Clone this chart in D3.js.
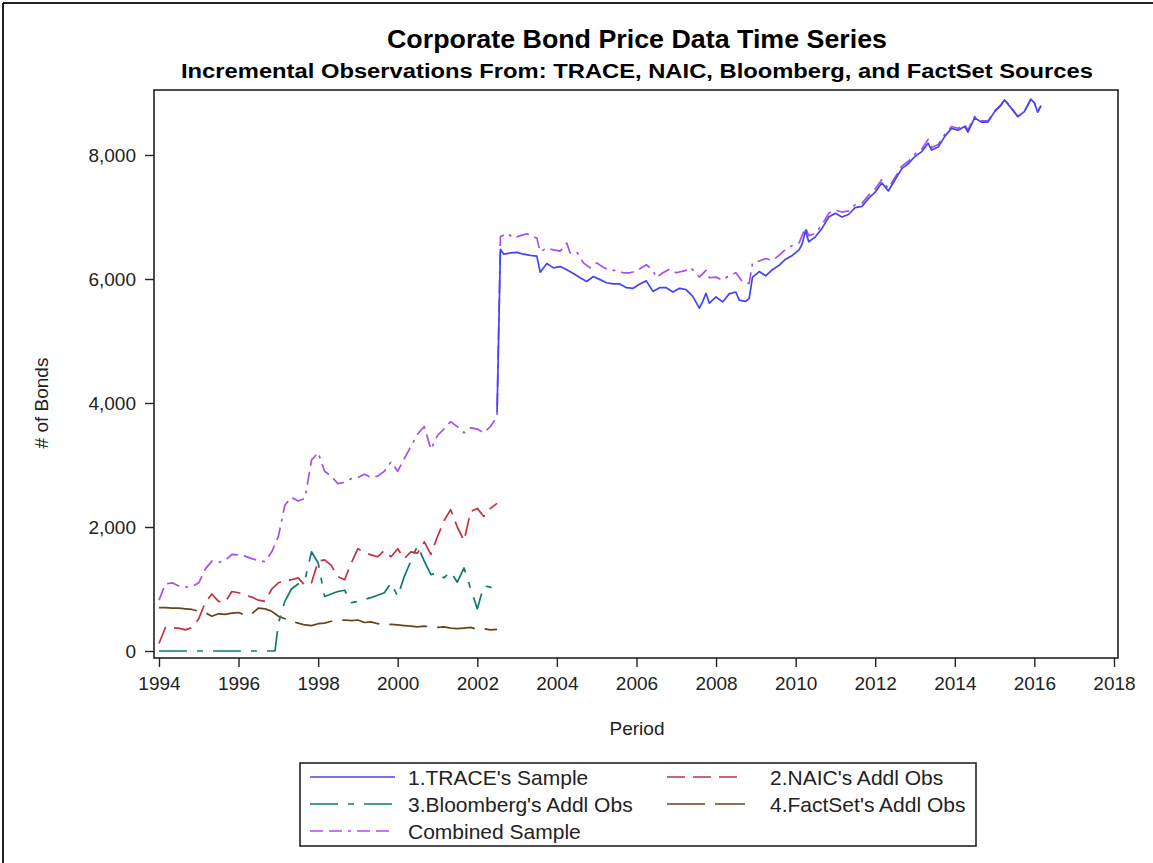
<!DOCTYPE html>
<html><head><meta charset="utf-8">
<script src="https://cdn.jsdelivr.net/npm/d3@7"></script>
<style>
html,body{margin:0;padding:0;background:#fff;}
svg{display:block;font-family:"Liberation Sans",Arial,Helvetica,sans-serif;}
</style></head>
<body>
<svg id="chart" width="1153" height="863"></svg>
<script>
const titleText = "Corporate Bond Price Data Time Series";
const subtitleText = "Incremental Observations From: TRACE, NAIC, Bloomberg, and FactSet Sources";
const xTickYears = [1994,1996,1998,2000,2002,2004,2006,2008,2010,2012,2014,2016,2018];
const yTicks = [0,2000,4000,6000,8000];
const seriesNames = ["1.TRACE's Sample","2.NAIC's Addl Obs","3.Bloomberg's Addl Obs","4.FactSet's Addl Obs","Combined Sample"];

const traceSample = [
["2002-07",3850],["2002-08",6480],["2002-09",6400],["2002-11",6420],["2003-01",6430],["2003-03",6400],["2003-05",6380],["2003-07",6370],
["2003-08",6110],["2003-10",6250],["2003-12",6180],["2004-02",6200],["2004-04",6150],["2004-06",6090],["2004-08",6020],["2004-10",5960],
["2004-12",6040],["2005-02",5990],["2005-04",5940],["2005-06",5920],["2005-08",5920],["2005-10",5860],["2005-12",5850],["2006-02",5920],
["2006-04",5970],["2006-06",5800],["2006-08",5860],["2006-10",5860],["2006-12",5790],["2007-02",5850],["2007-04",5830],["2007-06",5720],
["2007-08",5530],["2007-09",5640],["2007-10",5770],["2007-11",5610],["2008-01",5710],["2008-03",5630],["2008-05",5760],["2008-07",5790],
["2008-08",5660],["2008-10",5640],["2008-11",5690],["2008-12",6030],["2009-02",6120],["2009-04",6050],["2009-06",6150],["2009-08",6220],
["2009-10",6320],["2009-12",6380],["2010-02",6470],["2010-03",6560],["2010-04",6780],["2010-05",6600],["2010-07",6680],["2010-09",6820],
["2010-11",7000],["2011-01",7060],["2011-03",7000],["2011-05",7040],["2011-07",7150],["2011-09",7170],["2011-11",7300],["2012-01",7400],
["2012-03",7550],["2012-05",7420],["2012-07",7600],["2012-09",7780],["2012-11",7860],["2013-01",7980],["2013-03",8050],["2013-05",8190],
["2013-06",8080],["2013-08",8130],["2013-10",8300],["2013-12",8430],["2014-02",8400],["2014-04",8460],["2014-05",8370],["2014-07",8600],
["2014-09",8530],["2014-11",8530],["2015-01",8700],["2015-03",8800],["2015-04",8890],["2015-06",8760],["2015-08",8620],["2015-10",8700],
["2015-12",8900],["2016-01",8840],["2016-02",8690],["2016-03",8790]
];

const naicAddl = [
["1994-01",120],["1994-03",380],["1994-05",370],["1994-07",370],["1994-09",340],["1994-11",380],["1995-01",520],["1995-03",780],
["1995-05",920],["1995-07",800],["1995-09",790],["1995-11",960],["1996-01",940],["1996-03",900],["1996-05",870],["1996-07",820],
["1996-09",800],["1996-11",1000],["1997-01",1100],["1997-03",1130],["1997-05",1150],["1997-07",1180],["1997-09",1060],["1997-11",1100],
["1998-01",1450],["1998-03",1470],["1998-05",1380],["1998-07",1200],["1998-09",1150],["1998-11",1420],["1999-01",1650],["1999-03",1590],
["1999-05",1550],["1999-07",1520],["1999-09",1620],["1999-11",1520],["2000-01",1650],["2000-03",1490],["2000-05",1600],["2000-07",1580],
["2000-09",1760],["2000-11",1560],["2001-01",1850],["2001-03",2100],["2001-05",2280],["2001-07",2000],["2001-09",1780],["2001-11",2250],
["2002-01",2300],["2002-03",2170],["2002-05",2300],["2002-07",2380]
];

const bloombergAddl = [
["1994-01",0],["1994-03",0],["1994-05",0],["1994-07",0],["1994-09",0],["1994-11",0],["1995-01",0],["1995-03",0],
["1995-05",0],["1995-07",0],["1995-09",0],["1995-11",0],["1996-01",0],["1996-03",0],["1996-05",0],["1996-07",0],
["1996-09",0],["1996-11",0],["1996-12",0],["1997-01",450],["1997-03",800],["1997-05",1000],["1997-07",1080],["1997-09",1140],
["1997-11",1600],["1998-01",1420],["1998-03",880],["1998-05",920],["1998-07",960],["1998-09",980],["1998-11",780],["1999-01",800],
["1999-03",830],["1999-05",860],["1999-07",900],["1999-09",940],["1999-11",1100],["2000-01",880],["2000-03",1200],["2000-05",1450],
["2000-07",1700],["2000-09",1450],["2000-11",1230],["2001-01",1260],["2001-03",1180],["2001-05",1280],["2001-07",1110],["2001-09",1340],
["2001-11",1000],["2002-01",680],["2002-03",1050],["2002-05",1030],["2002-07",940]
];

const factsetAddl = [
["1994-01",700],["1994-03",700],["1994-05",690],["1994-07",690],["1994-09",680],["1994-11",670],["1995-01",640],["1995-03",620],
["1995-05",560],["1995-07",600],["1995-09",590],["1995-11",610],["1996-01",620],["1996-03",580],["1996-05",600],["1996-07",690],
["1996-09",680],["1996-11",640],["1997-01",560],["1997-03",520],["1997-05",480],["1997-07",450],["1997-09",420],["1997-11",410],
["1998-01",440],["1998-03",450],["1998-05",480],["1998-07",490],["1998-09",500],["1998-11",490],["1999-01",500],["1999-03",460],
["1999-05",470],["1999-07",440],["1999-09",430],["1999-11",430],["2000-01",420],["2000-03",410],["2000-05",400],["2000-07",390],
["2000-09",400],["2000-11",390],["2001-01",380],["2001-03",390],["2001-05",370],["2001-07",360],["2001-09",370],["2001-11",380],
["2002-01",350],["2002-03",360],["2002-05",340],["2002-07",350]
];

const combinedSample = [
["1994-01",820],["1994-03",1080],["1994-05",1100],["1994-07",1050],["1994-09",1030],["1994-11",1040],["1995-01",1100],["1995-03",1320],
["1995-05",1450],["1995-07",1430],["1995-09",1460],["1995-11",1560],["1996-01",1550],["1996-03",1530],["1996-05",1490],["1996-07",1460],
["1996-09",1440],["1996-11",1600],["1997-01",1850],["1997-03",2350],["1997-05",2480],["1997-07",2420],["1997-09",2460],["1997-11",3080],
["1998-01",3200],["1998-03",2900],["1998-05",2820],["1998-07",2700],["1998-09",2720],["1998-11",2780],["1999-01",2800],["1999-03",2850],
["1999-05",2800],["1999-07",2820],["1999-09",2900],["1999-11",3050],["2000-01",2900],["2000-03",3100],["2000-05",3300],["2000-07",3500],
["2000-09",3620],["2000-11",3250],["2001-01",3480],["2001-03",3580],["2001-05",3700],["2001-07",3620],["2001-09",3520],["2001-11",3600],
["2002-01",3580],["2002-03",3520],["2002-05",3620],["2002-07",3780],
["2002-08",6680],["2002-10",6740],["2002-12",6660],["2003-02",6700],["2003-04",6730],["2003-06",6680],["2003-07",6660],["2003-08",6440],
["2003-10",6500],["2003-12",6470],["2004-02",6450],["2004-04",6580],["2004-05",6420],["2004-07",6440],["2004-09",6260],["2004-11",6180],
["2005-01",6260],["2005-03",6190],["2005-05",6140],["2005-07",6140],["2005-09",6100],["2005-11",6100],["2006-01",6130],["2006-04",6230],
["2006-06",6140],["2006-07",6020],["2006-09",6100],["2006-11",6160],["2007-01",6100],["2007-04",6140],["2007-05",6190],["2007-07",6110],
["2007-08",6030],["2007-10",6140],["2007-11",6020],["2008-01",6030],["2008-03",5980],["2008-05",6060],["2008-07",6100],["2008-09",5950],
["2008-11",5930],["2008-12",6260],["2009-02",6290],["2009-04",6330],["2009-06",6300],["2009-08",6380],["2009-10",6480],["2009-12",6540],
["2010-02",6580],["2010-04",6830],["2010-05",6700],["2010-07",6730],["2010-09",6880],["2010-11",7060],["2011-01",7110],["2011-03",7080],
["2011-05",7100],["2011-07",7200],["2011-09",7220],["2011-11",7350],["2012-01",7450],["2012-03",7600],["2012-05",7460],["2012-07",7640],
["2012-09",7820],["2012-11",7900],["2013-01",8020],["2013-03",8090],["2013-05",8250],["2013-06",8120],["2013-08",8170],["2013-10",8330],
["2013-12",8460],["2014-02",8430],["2014-04",8490],["2014-05",8400],["2014-07",8620],["2014-09",8550],["2014-11",8550],["2015-01",8710],
["2015-03",8810],["2015-04",8900],["2015-06",8770],["2015-08",8620],["2015-10",8700],["2015-12",8910],["2016-01",8850],["2016-02",8700],
["2016-03",8800]
];

const parse = d3.timeParse("%Y-%m");
const svg = d3.select("#chart");
const W = 1153, H = 863;
const FONT = "'Liberation Sans',Arial,Helvetica,sans-serif";

// outer border (left & top)
svg.append("line").attr("x1",3).attr("y1",3).attr("x2",W).attr("y2",3).attr("stroke","#222").attr("stroke-width",2);
svg.append("line").attr("x1",3).attr("y1",3).attr("x2",3).attr("y2",H).attr("stroke","#222").attr("stroke-width",2);

const frame = {left:154, top:90, right:1118, bottom:658};
const x = d3.scaleTime().domain([new Date(1994,0,1), new Date(2018,0,1)]).range([159,1114]);
const y = d3.scaleLinear().domain([0,8000]).range([651,155]);

// titles
svg.append("text").attr("x",637).attr("y",48).attr("text-anchor","middle")
  .attr("font-size",25).attr("font-weight","bold").attr("fill","#000")
  .attr("textLength",500).attr("lengthAdjust","spacingAndGlyphs").text(titleText);
svg.append("text").attr("x",637).attr("y",78).attr("text-anchor","middle")
  .attr("font-size",20).attr("font-weight","bold").attr("fill","#000")
  .attr("textLength",912).attr("lengthAdjust","spacingAndGlyphs").text(subtitleText);

// clip
svg.append("clipPath").attr("id","clip").append("rect")
  .attr("x",frame.left).attr("y",frame.top).attr("width",frame.right-frame.left).attr("height",frame.bottom-frame.top);

const styles = [
  {data:traceSample, color:"#4444f2", dash:null},
  {data:naicAddl, color:"#c4303f", dash:"18,8"},
  {data:bloombergAddl, color:"#0e7a6c", dash:"28,10,6,10"},
  {data:factsetAddl, color:"#6a4317", dash:"38,10"},
  {data:combinedSample, color:"#a64ff0", dash:"13,6,13,6,3,6"}
];

const line = d3.line().x(d=>x(parse(d[0]))).y(d=>y(d[1]));
const g = svg.append("g").attr("clip-path","url(#clip)");
[4,3,2,1,0].forEach(i=>{
  const s = styles[i];
  g.append("path").datum(s.data).attr("d",line).attr("fill","none")
    .attr("stroke",s.color).attr("stroke-width",1.7)
    .attr("stroke-dasharray",s.dash).attr("stroke-linejoin","round");
});

// frame
svg.append("rect").attr("x",frame.left).attr("y",frame.top).attr("width",frame.right-frame.left)
  .attr("height",frame.bottom-frame.top).attr("fill","none").attr("stroke","#222").attr("stroke-width",1.6);

// axes
const xAxis = d3.axisBottom(x).tickValues(xTickYears.map(yr=>new Date(yr,0,1)))
  .tickFormat(d3.timeFormat("%Y")).tickSize(9).tickSizeOuter(0);
const gx = svg.append("g").attr("transform",`translate(0,${frame.bottom})`).call(xAxis);
gx.attr("font-family",FONT);
gx.select(".domain").remove();
gx.selectAll(".tick line").attr("stroke","#222").attr("stroke-width",1.4);
gx.selectAll(".tick text").attr("font-size",19).attr("fill","#222").attr("y",14).attr("dy","0.95em");

const yAxis = d3.axisLeft(y).tickValues(yTicks).tickFormat(d3.format(",")).tickSize(9).tickSizeOuter(0);
const gy = svg.append("g").attr("transform",`translate(${frame.left},0)`).call(yAxis);
gy.attr("font-family",FONT);
gy.select(".domain").remove();
gy.selectAll(".tick line").attr("stroke","#222").attr("stroke-width",1.4);
gy.selectAll(".tick text").attr("font-size",19).attr("fill","#222").attr("x",-18);

// axis labels
svg.append("text").attr("x",637).attr("y",735).attr("text-anchor","middle").attr("font-size",19).attr("fill","#222").text("Period");
svg.append("text").attr("transform","translate(48,403) rotate(-90)").attr("text-anchor","middle").attr("font-size",19).attr("fill","#222").text("# of Bonds");

// legend
const lg = svg.append("g");
lg.append("rect").attr("x",300).attr("y",763).attr("width",676).attr("height",83).attr("fill","#fff").attr("stroke","#222").attr("stroke-width",1.6);
const legendPos = [
  {x1:310,x2:395,tx:408,cy:777},
  {x1:667,x2:745,tx:770,cy:777},
  {x1:310,x2:395,tx:408,cy:804},
  {x1:667,x2:745,tx:770,cy:804},
  {x1:310,x2:395,tx:408,cy:831}
];
seriesNames.forEach((name,i)=>{
  const p = legendPos[i], s = styles[i];
  lg.append("line").attr("x1",p.x1).attr("x2",p.x2).attr("y1",p.cy).attr("y2",p.cy)
    .attr("stroke",s.color).attr("stroke-width",1.7).attr("stroke-dasharray",s.dash);
  lg.append("text").attr("x",p.tx).attr("y",p.cy).attr("dy","0.36em").attr("font-size",21).attr("fill","#222").text(name);
});
</script>
</body></html>
